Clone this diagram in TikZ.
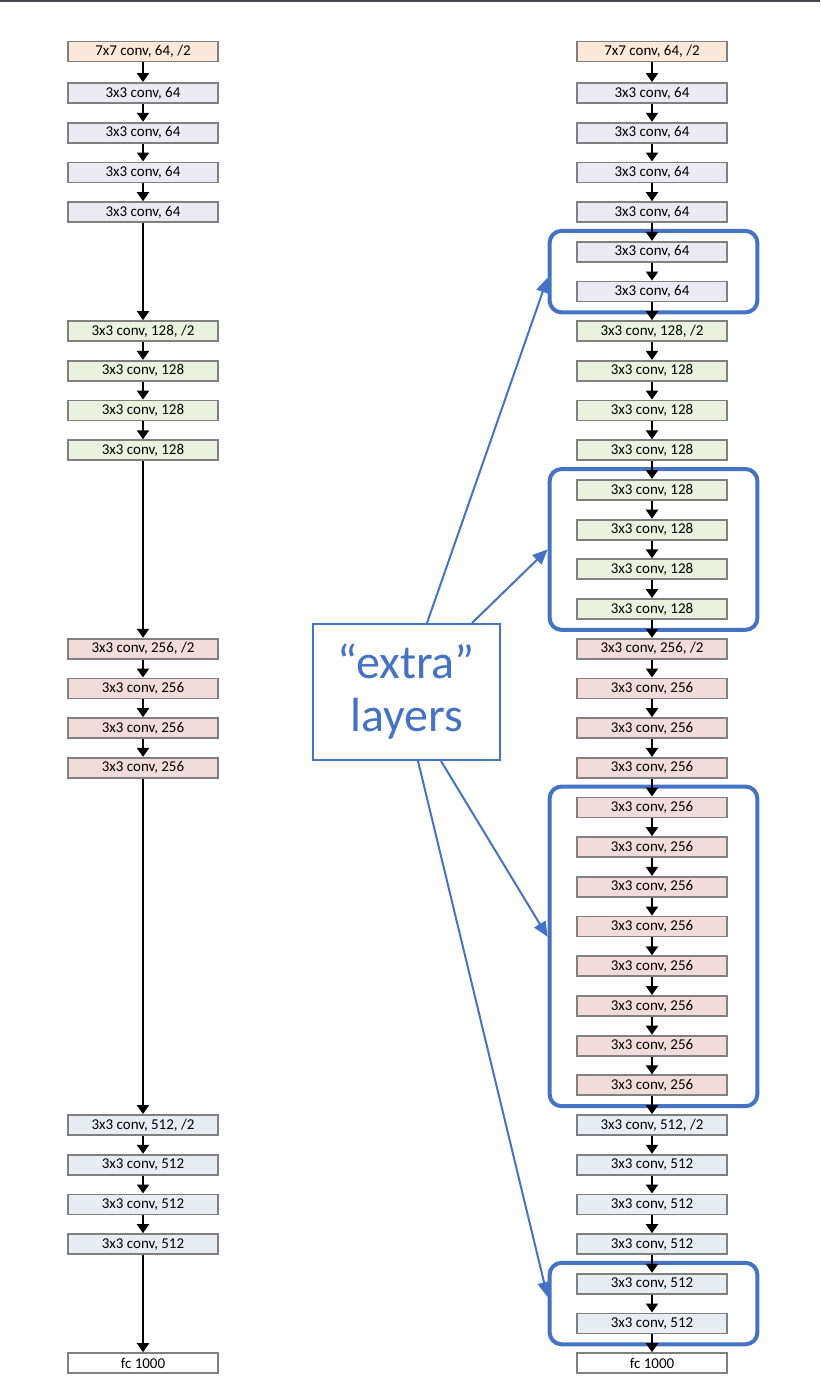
\documentclass[tikz,border=0pt]{standalone}
\usepackage{fontspec}
\setmainfont{Carlito}
\usetikzlibrary{arrows.meta,fit}
\definecolor{c7}{HTML}{FCE8D8}
\definecolor{c64}{HTML}{EBE9F1}
\definecolor{c128}{HTML}{EBF1DF}
\definecolor{c256}{HTML}{F2DCDB}
\definecolor{c512}{HTML}{E8EDF4}
\definecolor{bord}{HTML}{808080}
\definecolor{blu}{HTML}{4472C4}
\definecolor{topline}{HTML}{45484C}
\begin{document}
\begin{tikzpicture}[x=1pt,y=-1pt,
  layer/.style={draw=bord, line width=1.8pt, minimum width=150pt, minimum height=20pt, inner sep=0pt, font=\fontsize{15}{17}\selectfont},
  flow/.style={line width=2pt, -{Triangle[width=12pt,length=9pt]}},
  group/.style={draw=blu, line width=4pt, rounded corners=12pt, inner xsep=28pt, inner ysep=10pt, xshift=1.5pt},
  callout/.style={draw=blu, line width=2pt, -{Triangle[width=13pt,length=15pt]}}]
\useasboundingbox (0,0) rectangle (820,1394);
\fill[topline] (0,0) rectangle (820,2);

% ---------- left column ----------
\node[layer, fill=c7]   (L0)  at (143,51.5)   {7x7 conv, 64, /2};
\node[layer, fill=c64]  (L1)  at (143,93.0)   {3x3 conv, 64};
\node[layer, fill=c64]  (L2)  at (143,132.7)  {3x3 conv, 64};
\node[layer, fill=c64]  (L3)  at (143,172.4)  {3x3 conv, 64};
\node[layer, fill=c64]  (L4)  at (143,212.1)  {3x3 conv, 64};
\node[layer, fill=c128] (L7)  at (143,331.1)  {3x3 conv, 128, /2};
\node[layer, fill=c128] (L8)  at (143,370.8)  {3x3 conv, 128};
\node[layer, fill=c128] (L9)  at (143,410.5)  {3x3 conv, 128};
\node[layer, fill=c128] (L10) at (143,450.2)  {3x3 conv, 128};
\node[layer, fill=c256] (L15) at (143,648.7)  {3x3 conv, 256, /2};
\node[layer, fill=c256] (L16) at (143,688.4)  {3x3 conv, 256};
\node[layer, fill=c256] (L17) at (143,728.1)  {3x3 conv, 256};
\node[layer, fill=c256] (L18) at (143,767.8)  {3x3 conv, 256};
\node[layer, fill=c512] (L27) at (143,1125.0) {3x3 conv, 512, /2};
\node[layer, fill=c512] (L28) at (143,1164.7) {3x3 conv, 512};
\node[layer, fill=c512] (L29) at (143,1204.4) {3x3 conv, 512};
\node[layer, fill=c512] (L30) at (143,1244.1) {3x3 conv, 512};
\node[layer, fill=white] (L33) at (143,1363.1) {fc 1000};

\foreach \a/\b in {L0/L1,L1/L2,L2/L3,L3/L4,L4/L7,L7/L8,L8/L9,L9/L10,L10/L15,L15/L16,L16/L17,L17/L18,L18/L27,L27/L28,L28/L29,L29/L30,L30/L33}
  \draw[flow] (\a.south) -- (\b.north);

% ---------- right column ----------
\node[layer, fill=c7]   (R0)  at (652,51.5)   {7x7 conv, 64, /2};
\node[layer, fill=c64]  (R1)  at (652,93.0)   {3x3 conv, 64};
\node[layer, fill=c64]  (R2)  at (652,132.7)  {3x3 conv, 64};
\node[layer, fill=c64]  (R3)  at (652,172.4)  {3x3 conv, 64};
\node[layer, fill=c64]  (R4)  at (652,212.1)  {3x3 conv, 64};
\node[layer, fill=c64]  (R5)  at (652,251.8)  {3x3 conv, 64};
\node[layer, fill=c64]  (R6)  at (652,291.5)  {3x3 conv, 64};
\node[layer, fill=c128] (R7)  at (652,331.1)  {3x3 conv, 128, /2};
\node[layer, fill=c128] (R8)  at (652,370.8)  {3x3 conv, 128};
\node[layer, fill=c128] (R9)  at (652,410.5)  {3x3 conv, 128};
\node[layer, fill=c128] (R10) at (652,450.2)  {3x3 conv, 128};
\node[layer, fill=c128] (R11) at (652,489.9)  {3x3 conv, 128};
\node[layer, fill=c128] (R12) at (652,529.6)  {3x3 conv, 128};
\node[layer, fill=c128] (R13) at (652,569.3)  {3x3 conv, 128};
\node[layer, fill=c128] (R14) at (652,609.0)  {3x3 conv, 128};
\node[layer, fill=c256] (R15) at (652,648.7)  {3x3 conv, 256, /2};
\node[layer, fill=c256] (R16) at (652,688.4)  {3x3 conv, 256};
\node[layer, fill=c256] (R17) at (652,728.1)  {3x3 conv, 256};
\node[layer, fill=c256] (R18) at (652,767.8)  {3x3 conv, 256};
\node[layer, fill=c256] (R19) at (652,807.4)  {3x3 conv, 256};
\node[layer, fill=c256] (R20) at (652,847.1)  {3x3 conv, 256};
\node[layer, fill=c256] (R21) at (652,886.8)  {3x3 conv, 256};
\node[layer, fill=c256] (R22) at (652,926.5)  {3x3 conv, 256};
\node[layer, fill=c256] (R23) at (652,966.2)  {3x3 conv, 256};
\node[layer, fill=c256] (R24) at (652,1005.9) {3x3 conv, 256};
\node[layer, fill=c256] (R25) at (652,1045.6) {3x3 conv, 256};
\node[layer, fill=c256] (R26) at (652,1085.3) {3x3 conv, 256};
\node[layer, fill=c512] (R27) at (652,1125.0) {3x3 conv, 512, /2};
\node[layer, fill=c512] (R28) at (652,1164.7) {3x3 conv, 512};
\node[layer, fill=c512] (R29) at (652,1204.4) {3x3 conv, 512};
\node[layer, fill=c512] (R30) at (652,1244.1) {3x3 conv, 512};
\node[layer, fill=c512] (R31) at (652,1283.7) {3x3 conv, 512};
\node[layer, fill=c512] (R32) at (652,1323.4) {3x3 conv, 512};
\node[layer, fill=white] (R33) at (652,1363.1) {fc 1000};

% groups of extra layers
\node[group, fit=(R5)(R6)]   (G1) {};
\node[group, fit=(R11)(R14)] (G2) {};
\node[group, fit=(R19)(R26)] (G3) {};
\node[group, fit=(R31)(R32)] (G4) {};

\foreach \i [evaluate=\i as \j using int(\i+1)] in {0,...,32}
  \draw[flow] (R\i.south) -- (R\j.north);

% callout
\node[draw=blu, line width=2pt, fill=white, minimum width=187pt, minimum height=136pt,
      text=blu, align=center, font=\fontsize{48}{53}\selectfont] (E) at (406.5,692) {“extra”\\layers};

\draw[callout] ([xshift=20.5pt]E.north) -- ([yshift=-6pt]G1.west);
\draw[callout] ([xshift=65.5pt]E.north) -- ([yshift=0pt]G2.west);
\draw[callout] ([xshift=34.5pt]E.south) -- ([yshift=9.5pt]G3.west);
\draw[callout] ([xshift=11.5pt]E.south) -- ([yshift=6.5pt]G4.west);
\end{tikzpicture}
\end{document}
